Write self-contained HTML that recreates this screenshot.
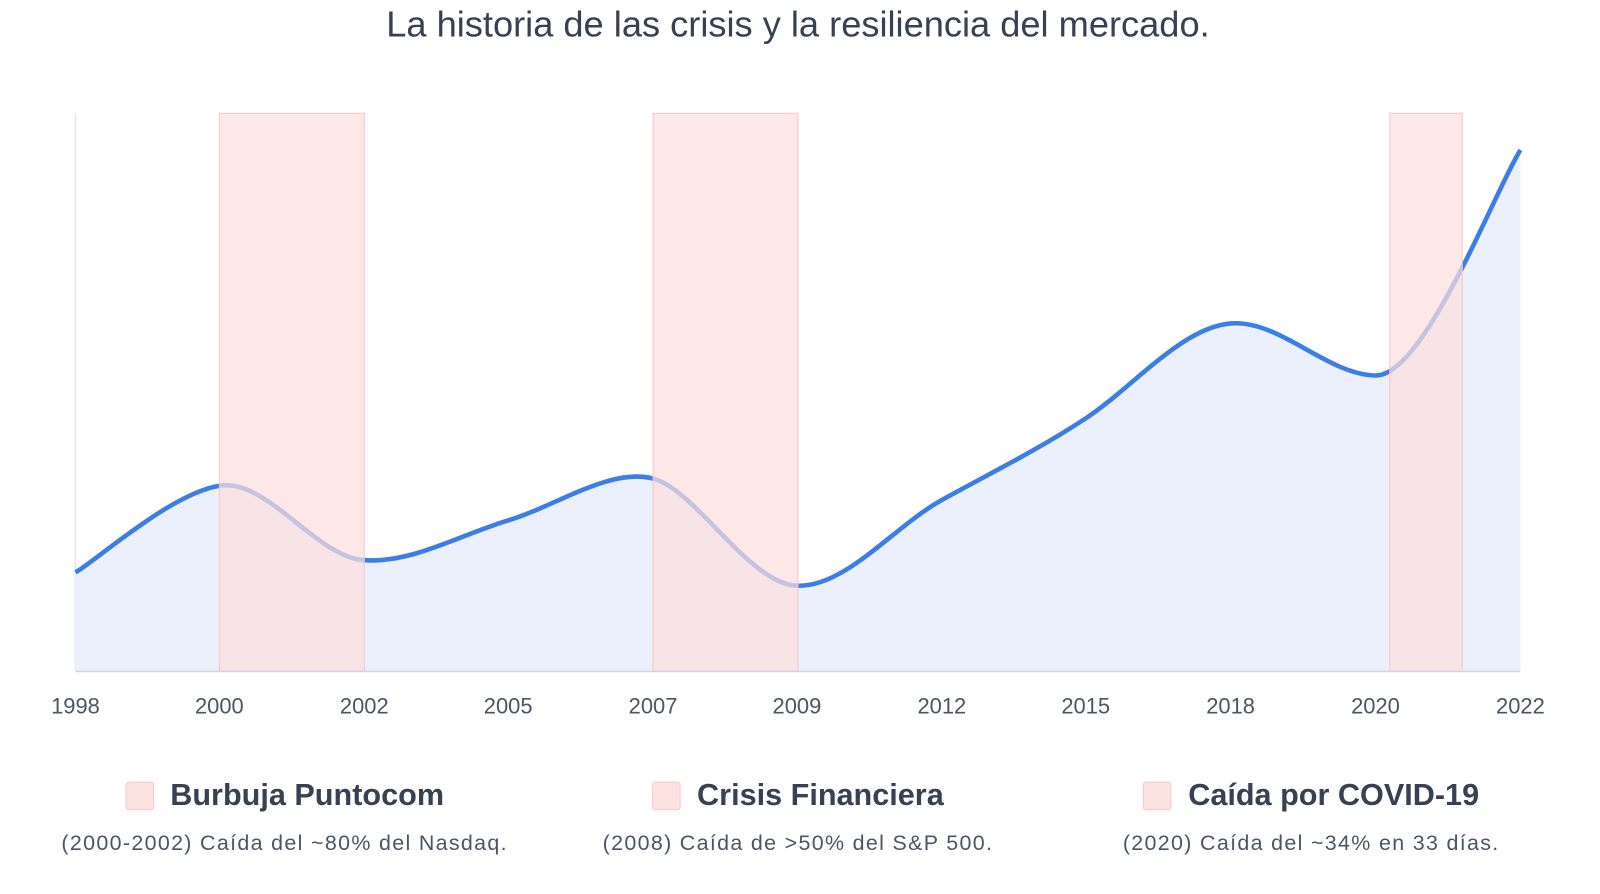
<!DOCTYPE html>
<html><head><meta charset="utf-8"><style>
body{margin:0;width:1600px;height:894px;background:#fff;font-family:"Liberation Sans",sans-serif;overflow:hidden;position:relative}
#w{position:absolute;left:0;top:0;width:1568px;height:876px;transform:scale(1.0204);transform-origin:0 0}
.t{position:absolute;left:0;width:1564px;text-align:center;top:4px;font-size:35.5px;color:#374151}
.lg{position:absolute;top:763px;width:520px;text-align:center}
.lg .h{font-size:30px;font-weight:bold;color:#374151;display:inline-flex;align-items:center}
.lg .h i{display:inline-block;width:26px;height:26px;background:#fde2e2;border:1px solid #f8c9c9;border-radius:3px;margin-right:16px}
.lg .s{font-size:21px;letter-spacing:1.3px;color:#4b5563;margin-top:16px}
</style></head><body><div id="w">
<div class="t">La historia de las crisis y la resiliencia del mercado.</div>
<svg width="1568" height="876" style="position:absolute;left:0;top:0">
<line x1="74" y1="111" x2="74" y2="658" stroke="#e5e7eb" stroke-width="1.5"/>
<path d="M74,561 C97.5,546.8 168,483.5 215,476 C262,468.5 309.7,546 357,549 C404.3,552 451,524 498,510 C545,496 597.8,458 640,469 C682.2,480 733.8,572 781,574 C828.2,576 876,516 923,490 C970,464 1017,441 1064,410 C1111,379 1158,321 1206,317 C1254,313 1300,367 1348,368 C1396,369 1466.3,184 1490,147 L1490,658 L74,658 Z" fill="#ecf0fd"/>
<path d="M74,561 C97.5,546.8 168,483.5 215,476 C262,468.5 309.7,546 357,549 C404.3,552 451,524 498,510 C545,496 597.8,458 640,469 C682.2,480 733.8,572 781,574 C828.2,576 876,516 923,490 C970,464 1017,441 1064,410 C1111,379 1158,321 1206,317 C1254,313 1300,367 1348,368 C1396,369 1466.3,184 1490,147" fill="none" stroke="#3b7ee6" stroke-width="4.5"/>
<g fill="#fcdede" fill-opacity="0.72" stroke="#f6c6c8" stroke-width="1">
<rect x="215" y="111" width="142" height="547"/>
<rect x="640" y="111" width="142" height="547"/>
<rect x="1362" y="111" width="71" height="547"/>
</g>
<line x1="74" y1="658" x2="1490" y2="658" stroke="#d1d5db" stroke-width="1.5"/>
<g font-size="21.5" fill="#4b5563" text-anchor="middle">
<text x="74" y="699">1998</text><text x="215" y="699">2000</text><text x="357" y="699">2002</text><text x="498" y="699">2005</text><text x="640" y="699">2007</text><text x="781" y="699">2009</text><text x="923" y="699">2012</text><text x="1064" y="699">2015</text><text x="1206" y="699">2018</text><text x="1348" y="699">2020</text><text x="1490" y="699">2022</text>
</g>
</svg>
<div class="lg" style="left:19px"><div class="h"><i></i>Burbuja Puntocom</div><div class="s">(2000-2002) Caída del ~80% del Nasdaq.</div></div>
<div class="lg" style="left:522px"><div class="h"><i></i>Crisis Financiera</div><div class="s">(2008) Caída de &gt;50% del S&amp;P 500.</div></div>
<div class="lg" style="left:1025px"><div class="h"><i></i>Caída por COVID-19</div><div class="s">(2020) Caída del ~34% en 33 días.</div></div>
</div></body></html>
